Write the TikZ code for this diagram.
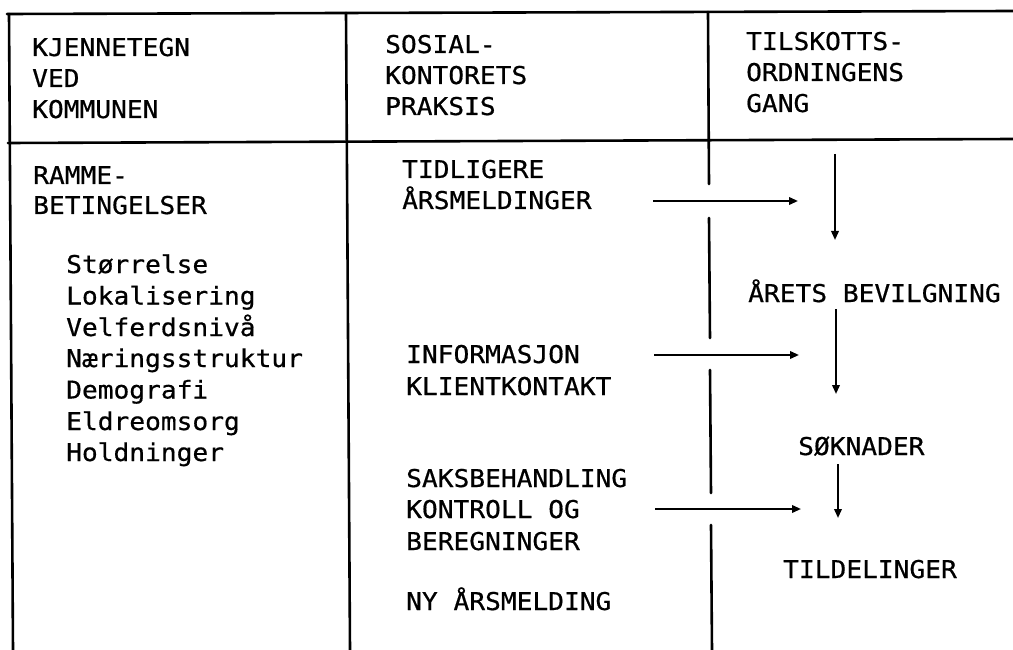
\documentclass[tikz,border=0pt]{standalone}
\usepackage{fontspec}
\usetikzlibrary{arrows.meta}
\newfontfamily\lpfont[FakeStretch=1.07,FakeBold=0.6]{DejaVu Sans Mono}
\begin{document}
\begin{tikzpicture}[x=1pt,y=-1pt,
  frame/.style={line width=2.6pt,line cap=round},
  flow/.style={line width=2pt,-{Triangle[length=9pt,width=7.5pt]}},
  txt/.style={anchor=base west,inner sep=0pt,font=\lpfont\fontsize{24.5}{31}\selectfont}]
\useasboundingbox (0,0) rectangle (1013,650);
\fill[white] (0,0) rectangle (1013,650);
% frame
\draw[frame] (7,14) -- (1013,11);
\draw[frame] (8,143) -- (1013,139);
\draw[frame] (9,14) -- (13,650);
\draw[frame] (346,13) -- (350,650);
\draw[frame] (708,12) -- (709,184);
\draw[frame] (709,218) -- (710,338);
\draw[frame] (710,370) -- (711,493);
\draw[frame] (711,525) -- (712,650);
% column 1 header
\node[txt] (h11) at (32,56) {KJENNETEGN};
\node[txt] (h12) at (32,87) {VED};
\node[txt] (h13) at (32,118) {KOMMUNEN};
% column 2 header
\node[txt] (h21) at (385,53) {SOSIAL-};
\node[txt] (h22) at (385,84) {KONTORETS};
\node[txt] (h23) at (385,115) {PRAKSIS};
% column 3 header
\node[txt] (h31) at (746,50) {TILSKOTTS-};
\node[txt] (h32) at (746,81) {ORDNINGENS};
\node[txt] (h33) at (746,112) {GANG};
% column 1 body
\node[txt] (r1) at (33,184) {RAMME-};
\node[txt] (r2) at (33,214) {BETINGELSER};
\node[txt] (l1) at (66,273) {Størrelse};
\node[txt] (l2) at (66,304.5) {Lokalisering};
\node[txt] (l3) at (66,336) {Velferdsnivå};
\node[txt] (l4) at (66,367) {Næringsstruktur};
\node[txt] (l5) at (66,398.5) {Demografi};
\node[txt] (l6) at (66,430) {Eldreomsorg};
\node[txt] (l7) at (66,461) {Holdninger};
% column 2 body
\node[txt] (t1) at (402,178) {TIDLIGERE};
\node[txt] (t2) at (402,209) {ÅRSMELDINGER};
\node[txt] (i1) at (406,363) {INFORMASJON};
\node[txt] (i2) at (406,395) {KLIENTKONTAKT};
\node[txt] (s1) at (406,487) {SAKSBEHANDLING};
\node[txt] (s2) at (406,518) {KONTROLL OG};
\node[txt] (s3) at (406,550) {BEREGNINGER};
\node[txt] (ny) at (406,610) {NY ÅRSMELDING};
% column 3 body
\node[txt] (bev) at (748,302) {ÅRETS BEVILGNING};
\node[txt] (sok) at (798,455) {SØKNADER};
\node[txt] (til) at (783,578) {TILDELINGER};
% connector ends
\coordinate (a1s) at (653,201);  \coordinate (a1e) at (798,201);
\coordinate (a2s) at (654,355);  \coordinate (a2e) at (799,355);
\coordinate (a3s) at (655,509);  \coordinate (a3e) at (801,509);
\coordinate (v1s) at (835,154);  \coordinate (v1e) at (835,240);
\coordinate (v2s) at (836,309);  \coordinate (v2e) at (836,394);
\coordinate (v3s) at (838,464);  \coordinate (v3e) at (838,518);
\draw[flow] (a1s) -- (a1e);
\draw[flow] (a2s) -- (a2e);
\draw[flow] (a3s) -- (a3e);
\draw[flow] (v1s) -- (v1e);
\draw[flow] (v2s) -- (v2e);
\draw[flow] (v3s) -- (v3e);
\end{tikzpicture}
\end{document}
